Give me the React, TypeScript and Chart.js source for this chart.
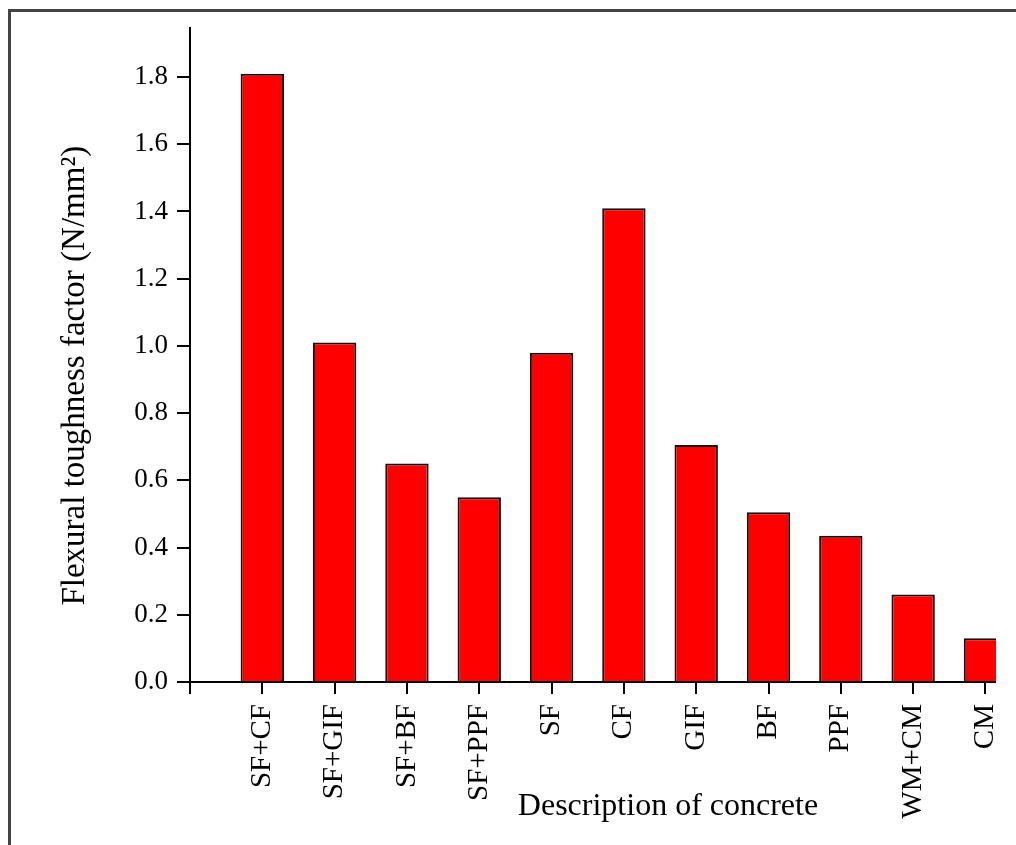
import { useEffect, useRef } from 'react';
import { Chart, registerables } from 'chart.js';

Chart.register(...registerables);

const categories = ['SF+CF', 'SF+GIF', 'SF+BF', 'SF+PPF', 'SF', 'CF', 'GIF', 'BF', 'PPF', 'WM+CM', 'CM'];
const toughness = [1.81, 1.01, 0.65, 0.55, 0.98, 1.41, 0.705, 0.505, 0.435, 0.26, 0.13];
const yTicks = [0, 0.2, 0.4, 0.6, 0.8, 1.0, 1.2, 1.4, 1.6, 1.8];
const xTickPositions = [0, ...categories.map((_, i) => i + 1)];
const yTitle = 'Flexural toughness factor (N/mm\u00B2)';
const xTitle = 'Description of concrete';

const FONT = "'Liberation Serif', 'Times New Roman', serif";

export default function App() {
  const canvasRef = useRef<HTMLCanvasElement | null>(null);

  useEffect(() => {
    const canvas = canvasRef.current;
    if (!canvas) return;
    const chart = new Chart(canvas, {
      type: 'bar',
      data: {
        datasets: [
          {
            data: toughness.map((v, i) => ({ x: i + 1, y: v })),
            backgroundColor: '#ff0000',
            borderColor: '#111111',
            borderWidth: 2,
            barPercentage: 0.6,
            categoryPercentage: 1,
          },
        ],
      },
      options: {
        responsive: false,
        animation: false,
        events: [],
        layout: { padding: { top: 16, right: 5, left: 0, bottom: 0 } },
        plugins: {
          legend: { display: false },
          tooltip: { enabled: false },
          title: { display: false },
        },
        scales: {
          x: {
            type: 'linear',
            offset: false,
            min: 0,
            max: 13.22,
            afterBuildTicks: (s: any) => {
              s.ticks = xTickPositions.map((v) => ({ value: v }));
            },
            afterFit: (s: any) => {
              s.height = 163;
              s.paddingLeft = 0;
              s.paddingRight = 0;
            },
            grid: {
              display: true,
              offset: false,
              drawOnChartArea: false,
              drawTicks: true,
              tickLength: 12,
              lineWidth: 2,
              color: '#000',
              tickColor: '#000',
            },
            border: { display: true, color: '#000', width: 2 },
            ticks: {
              autoSkip: false,
              maxRotation: 90,
              minRotation: 90,
              padding: 10,
              color: '#000',
              font: { family: FONT, size: 29 },
              callback: (v: any) => categories[Number(v) - 1] ?? '',
            },
            title: {
              display: true,
              text: xTitle,
              color: '#000',
              font: { family: FONT, size: 32 },
              padding: { top: 0, bottom: 19 },
            },
          },
          y: {
            type: 'linear',
            min: 0,
            max: 1.946,
            afterBuildTicks: (s: any) => {
              s.ticks = yTicks.map((v) => ({ value: v }));
            },
            afterFit: (s: any) => {
              s.width = 179;
              s.paddingTop = 0;
              s.paddingBottom = 0;
            },
            grid: {
              display: true,
              offset: false,
              drawOnChartArea: false,
              drawTicks: true,
              tickLength: 13,
              lineWidth: 2,
              color: '#000',
              tickColor: '#000',
            },
            border: { display: true, color: '#000', width: 2 },
            ticks: {
              padding: 9,
              color: '#000',
              font: { family: FONT, size: 27 },
              callback: (v: any) => Number(v).toFixed(1),
            },
            title: {
              display: true,
              text: yTitle + '     ',
              color: '#000',
              font: { family: FONT, size: 33 },
              padding: { top: 45, bottom: 0 },
            },
          },
        },
      },
    } as any);
    return () => chart.destroy();
  }, []);

  return (
    <>
      <style>{`html,body{overflow:hidden;}`}</style>
      <div
        style={{
          position: 'absolute',
          left: 8,
          top: 9,
          width: 1008,
          height: 836,
          boxSizing: 'border-box',
          borderLeft: '3px solid #444',
          borderTop: '3px solid #444',
          background: '#fff',
        }}
      >
        <div
          style={{
            position: 'absolute',
            left: 0,
            top: 0,
            width: 985,
            height: 833,
            overflow: 'hidden',
          }}
        >
          <canvas
            ref={canvasRef}
            width={1140}
            height={833}
            style={{ display: 'block', width: 1140, height: 833 }}
          />
        </div>
      </div>
    </>
  );
}
